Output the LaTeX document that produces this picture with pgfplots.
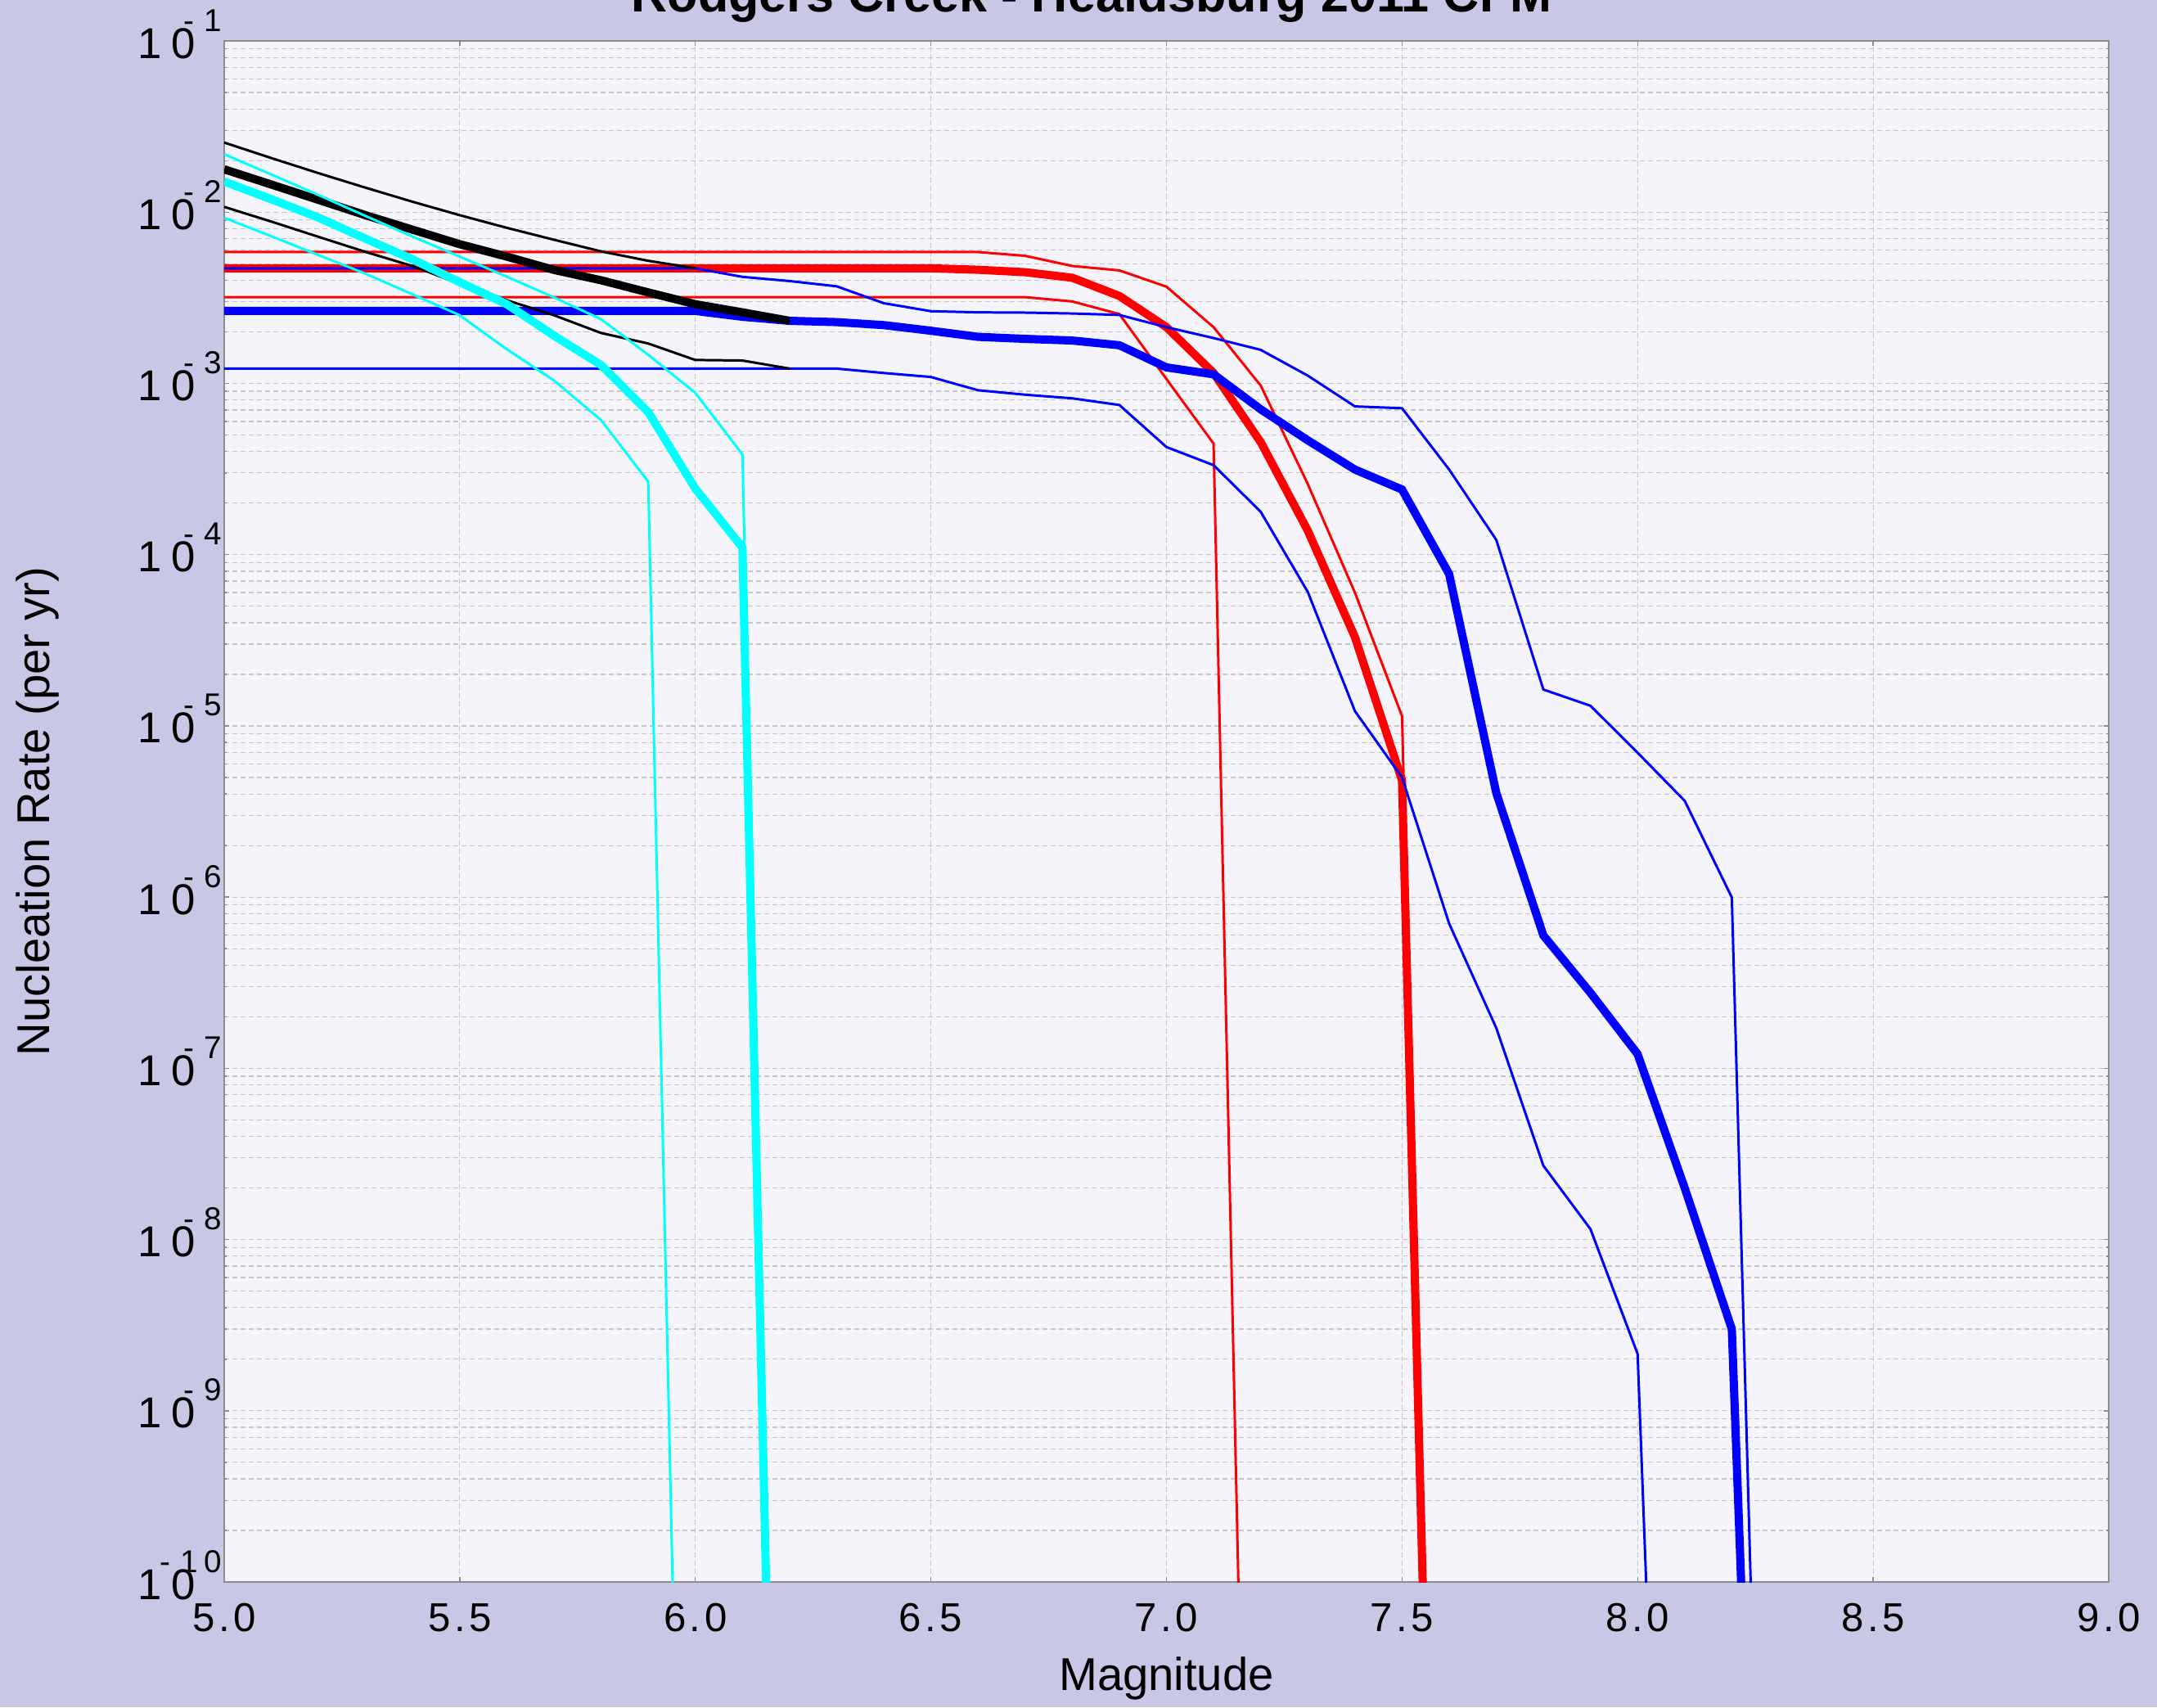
\documentclass[border=0pt]{standalone}
\usepackage{fontspec}
\setmainfont{Liberation Sans}
\usepackage{pgfplots}
\pgfplotsset{compat=1.18}

\definecolor{outerbg}{RGB}{200,200,230}
\definecolor{innerbg}{RGB}{244,244,250}
\definecolor{gridc}{RGB}{198,198,198}
\definecolor{framec}{RGB}{140,140,140}
\definecolor{cyn}{RGB}{0,255,255}

% y tick label: base "10" with the raised "-n" as in the reference
\newcommand{\yl}[1]{{\fontsize{15pt}{15pt}\selectfont 1\kern0.12cm0}\kern0.325cm\llap{\raisebox{0.33cm}{\fontsize{11pt}{11pt}\selectfont -\kern0.12cm#1}}}
% x tick label with a little tracking
\newcommand{\xl}[2]{#1\kern0.045cm.\kern0.045cm#2}

\begin{document}
\begin{tikzpicture}
\fill[outerbg] (-2.74,-1.53) rectangle (23.62,19.33);

\begin{axis}[
  at={(0,0)}, anchor=south west,
  scale only axis, width=23.03cm, height=18.83cm,
  xmin=5, xmax=9, ymode=log, ymin=1e-10, ymax=1e-1,
  axis background/.style={fill=innerbg},
  axis line style={framec, line width=0.6pt},
  tick style={framec, line width=0.4pt},
  tick align=inside, major tick length=0.06cm, minor tick length=0.035cm,
  xtick={5,5.5,6,6.5,7,7.5,8,8.5,9},
  xticklabels={\xl{5}{0},\xl{5}{5},\xl{6}{0},\xl{6}{5},\xl{7}{0},\xl{7}{5},\xl{8}{0},\xl{8}{5},\xl{9}{0}},
  xticklabel style={anchor=base, inner sep=0pt, yshift=-0.60cm, font=\fontsize{14pt}{14pt}\selectfont},
  ytick={1e-10,1e-9,1e-8,1e-7,1e-6,1e-5,1e-4,1e-3,1e-2,1e-1},
  yticklabels={\yl{1\kern0.08cm0},\yl{9},\yl{8},\yl{7},\yl{6},\yl{5},\yl{4},\yl{3},\yl{2},\yl{1}},
  minor ytick={2e-10,3e-10,4e-10,5e-10,6e-10,7e-10,8e-10,9e-10,
               2e-9,3e-9,4e-9,5e-9,6e-9,7e-9,8e-9,9e-9,
               2e-8,3e-8,4e-8,5e-8,6e-8,7e-8,8e-8,9e-8,
               2e-7,3e-7,4e-7,5e-7,6e-7,7e-7,8e-7,9e-7,
               2e-6,3e-6,4e-6,5e-6,6e-6,7e-6,8e-6,9e-6,
               2e-5,3e-5,4e-5,5e-5,6e-5,7e-5,8e-5,9e-5,
               2e-4,3e-4,4e-4,5e-4,6e-4,7e-4,8e-4,9e-4,
               2e-3,3e-3,4e-3,5e-3,6e-3,7e-3,8e-3,9e-3,
               2e-2,3e-2,4e-2,5e-2,6e-2,7e-2,8e-2,9e-2},
  yticklabel style={anchor=base east, inner sep=0pt, xshift=-0.02cm, yshift=-0.21cm},
  xmajorgrids, ymajorgrids, yminorgrids,
  major grid style={gridc, line width=0.35pt, dash pattern=on 0.06cm off 0.04cm},
  minor grid style={gridc, line width=0.35pt, dash pattern=on 0.06cm off 0.04cm},
  xlabel={Magnitude},
  ylabel={Nucleation Rate (per yr)},
  xlabel style={at={(axis description cs:0.5,-0.0701)}, anchor=base, inner sep=0pt, font=\fontsize{16pt}{16pt}\selectfont},
  ylabel style={at={(axis description cs:-0.0929,0.5)}, anchor=base, inner sep=0pt, font=\fontsize{16pt}{16pt}\selectfont},
  clip=true,
]

% red: min / max / mean
\addplot[red, line width=0.85pt] coordinates {
 (5.0,0.00585)(5.1,0.00585)(5.2,0.00585)(5.3,0.00585)(5.4,0.00585)(5.5,0.00585)
 (5.6,0.00585)(5.7,0.00585)(5.8,0.00585)(5.9,0.00585)(6.0,0.00585)(6.1,0.00585)
 (6.2,0.00585)(6.3,0.00585)(6.4,0.00585)(6.5,0.00585)(6.6,0.00585)(6.7,0.00556)
 (6.8,0.00485)(6.9,0.00457)(7.0,0.00367)(7.1,0.00213)(7.2,0.000972)(7.3,0.000258)
 (7.4,6.0e-5)(7.5,1.14e-5)(7.6,1e-16)};
\addplot[red, line width=0.85pt] coordinates {
 (5.0,0.00319)(5.1,0.00319)(5.2,0.00319)(5.3,0.00319)(5.4,0.00319)(5.5,0.00319)
 (5.6,0.00319)(5.7,0.00319)(5.8,0.00319)(5.9,0.00319)(6.0,0.00319)(6.1,0.00319)
 (6.2,0.00319)(6.3,0.00319)(6.4,0.00319)(6.5,0.00319)(6.6,0.00319)(6.7,0.00319)
 (6.8,0.00301)(6.9,0.00254)(7.0,0.00106)(7.1,0.000445)(7.2,1e-16)};
\addplot[red, line width=2.85pt] coordinates {
 (5.0,0.0047)(5.1,0.0047)(5.2,0.0047)(5.3,0.0047)(5.4,0.0047)(5.5,0.0047)
 (5.6,0.0047)(5.7,0.0047)(5.8,0.0047)(5.9,0.0047)(6.0,0.0047)(6.1,0.0047)
 (6.2,0.0047)(6.3,0.0047)(6.4,0.0047)(6.5,0.0047)(6.6,0.00461)(6.7,0.00446)
 (6.8,0.00414)(6.9,0.00324)(7.0,0.00213)(7.1,0.00115)(7.2,0.000454)(7.3,0.000138)
 (7.4,3.3e-5)(7.5,4.8e-6)(7.6,1e-16)};

% blue: min / max / mean
\addplot[blue, line width=0.85pt] coordinates {
 (5.0,0.0047)(5.1,0.0047)(5.2,0.0047)(5.3,0.0047)(5.4,0.0047)(5.5,0.0047)
 (5.6,0.0047)(5.7,0.0047)(5.8,0.0047)(5.9,0.0047)(6.0,0.0047)(6.1,0.00419)
 (6.2,0.00396)(6.3,0.00369)(6.4,0.00294)(6.5,0.00264)(6.6,0.00260)(6.7,0.00259)
 (6.8,0.00256)(6.9,0.00251)(7.0,0.00213)(7.1,0.00184)(7.2,0.00157)(7.3,0.00111)
 (7.4,0.000734)(7.5,0.000716)(7.6,0.000314)(7.7,0.000122)(7.8,1.63e-5)(7.9,1.31e-5)
 (8.0,6.97e-6)(8.1,3.65e-6)(8.2,9.95e-7)(8.3,1e-16)};
\addplot[blue, line width=0.85pt] coordinates {
 (5.0,0.00122)(5.1,0.00122)(5.2,0.00122)(5.3,0.00122)(5.4,0.00122)(5.5,0.00122)
 (5.6,0.00122)(5.7,0.00122)(5.8,0.00122)(5.9,0.00122)(6.0,0.00122)(6.1,0.00122)
 (6.2,0.00122)(6.3,0.00122)(6.4,0.00115)(6.5,0.00109)(6.6,0.000912)(6.7,0.000859)
 (6.8,0.000818)(6.9,0.000748)(7.0,0.000425)(7.1,0.000333)(7.2,0.000178)(7.3,6.05e-5)
 (7.4,1.22e-5)(7.5,5.0e-6)(7.6,7.0e-7)(7.7,1.72e-7)(7.8,2.7e-8)(7.9,1.15e-8)
 (8.0,2.15e-9)(8.1,1e-16)};
\addplot[blue, line width=2.85pt] coordinates {
 (5.0,0.00265)(5.1,0.00265)(5.2,0.00265)(5.3,0.00265)(5.4,0.00265)(5.5,0.00265)
 (5.6,0.00265)(5.7,0.00265)(5.8,0.00265)(5.9,0.00265)(6.0,0.00265)(6.1,0.00245)
 (6.2,0.00232)(6.3,0.00228)(6.4,0.00219)(6.5,0.00203)(6.6,0.00187)(6.7,0.00182)
 (6.8,0.00178)(6.9,0.00167)(7.0,0.00124)(7.1,0.00113)(7.2,0.000706)(7.3,0.000465)
 (7.4,0.000314)(7.5,0.000240)(7.6,7.7e-5)(7.7,4.06e-6)(7.8,5.97e-7)(7.9,2.76e-7)
 (8.0,1.21e-7)(8.1,2.0e-8)(8.2,3.0e-9)(8.3,1e-16)};

% black: min / max / mean
\addplot[black, line width=0.85pt] coordinates {
 (5.0,0.0255)(5.1,0.0207)(5.2,0.0169)(5.3,0.0139)(5.4,0.0115)(5.5,0.0096)
 (5.6,0.0081)(5.7,0.0069)(5.8,0.0059)(5.9,0.0052)(6.0,0.0047)};
\addplot[black, line width=0.85pt] coordinates {
 (5.0,0.01074)(5.1,0.00881)(5.2,0.00718)(5.3,0.00586)(5.4,0.00484)(5.5,0.00382)
 (5.6,0.00306)(5.7,0.00250)(5.8,0.00197)(5.9,0.00171)(6.0,0.00137)(6.1,0.00136)
 (6.2,0.00122)};
\addplot[black, line width=2.85pt] coordinates {
 (5.0,0.0178)(5.1,0.0145)(5.2,0.0118)(5.3,0.0096)(5.4,0.0079)(5.5,0.0065)
 (5.6,0.0055)(5.7,0.0046)(5.8,0.0040)(5.9,0.0034)(6.0,0.0029)(6.1,0.0026)
 (6.2,0.00232)};

% cyan: min / max / mean
\addplot[cyn, line width=0.85pt] coordinates {
 (5.0,0.0218)(5.1,0.0166)(5.2,0.0126)(5.3,0.0095)(5.4,0.0072)(5.5,0.0055)
 (5.6,0.0042)(5.7,0.00318)(5.8,0.00237)(5.9,0.00147)(6.0,0.000879)(6.1,0.000385)
 (6.2,1e-16)};
\addplot[cyn, line width=0.85pt] coordinates {
 (5.0,0.00927)(5.1,0.00724)(5.2,0.00562)(5.3,0.00437)(5.4,0.00331)(5.5,0.00250)
 (5.6,0.00158)(5.7,0.00104)(5.8,0.00061)(5.9,0.000267)(6.0,1e-16)};
\addplot[cyn, line width=2.85pt] coordinates {
 (5.0,0.0151)(5.1,0.0119)(5.2,0.0093)(5.3,0.0070)(5.4,0.0053)(5.5,0.0039)
 (5.6,0.0029)(5.7,0.00190)(5.8,0.00128)(5.9,0.00068)(6.0,0.000243)(6.1,0.000110)
 (6.2,1e-16)};
\end{axis}

\node[anchor=base, inner sep=0pt, font=\fontsize{17.4pt}{18pt}\selectfont\bfseries]
  at (10.60,19.18) {Rodgers Creek - Healdsburg 2011 CFM};

\pgfresetboundingbox
\useasboundingbox (-2.74,-1.53) rectangle (23.62,19.33);
\end{tikzpicture}
\end{document}
